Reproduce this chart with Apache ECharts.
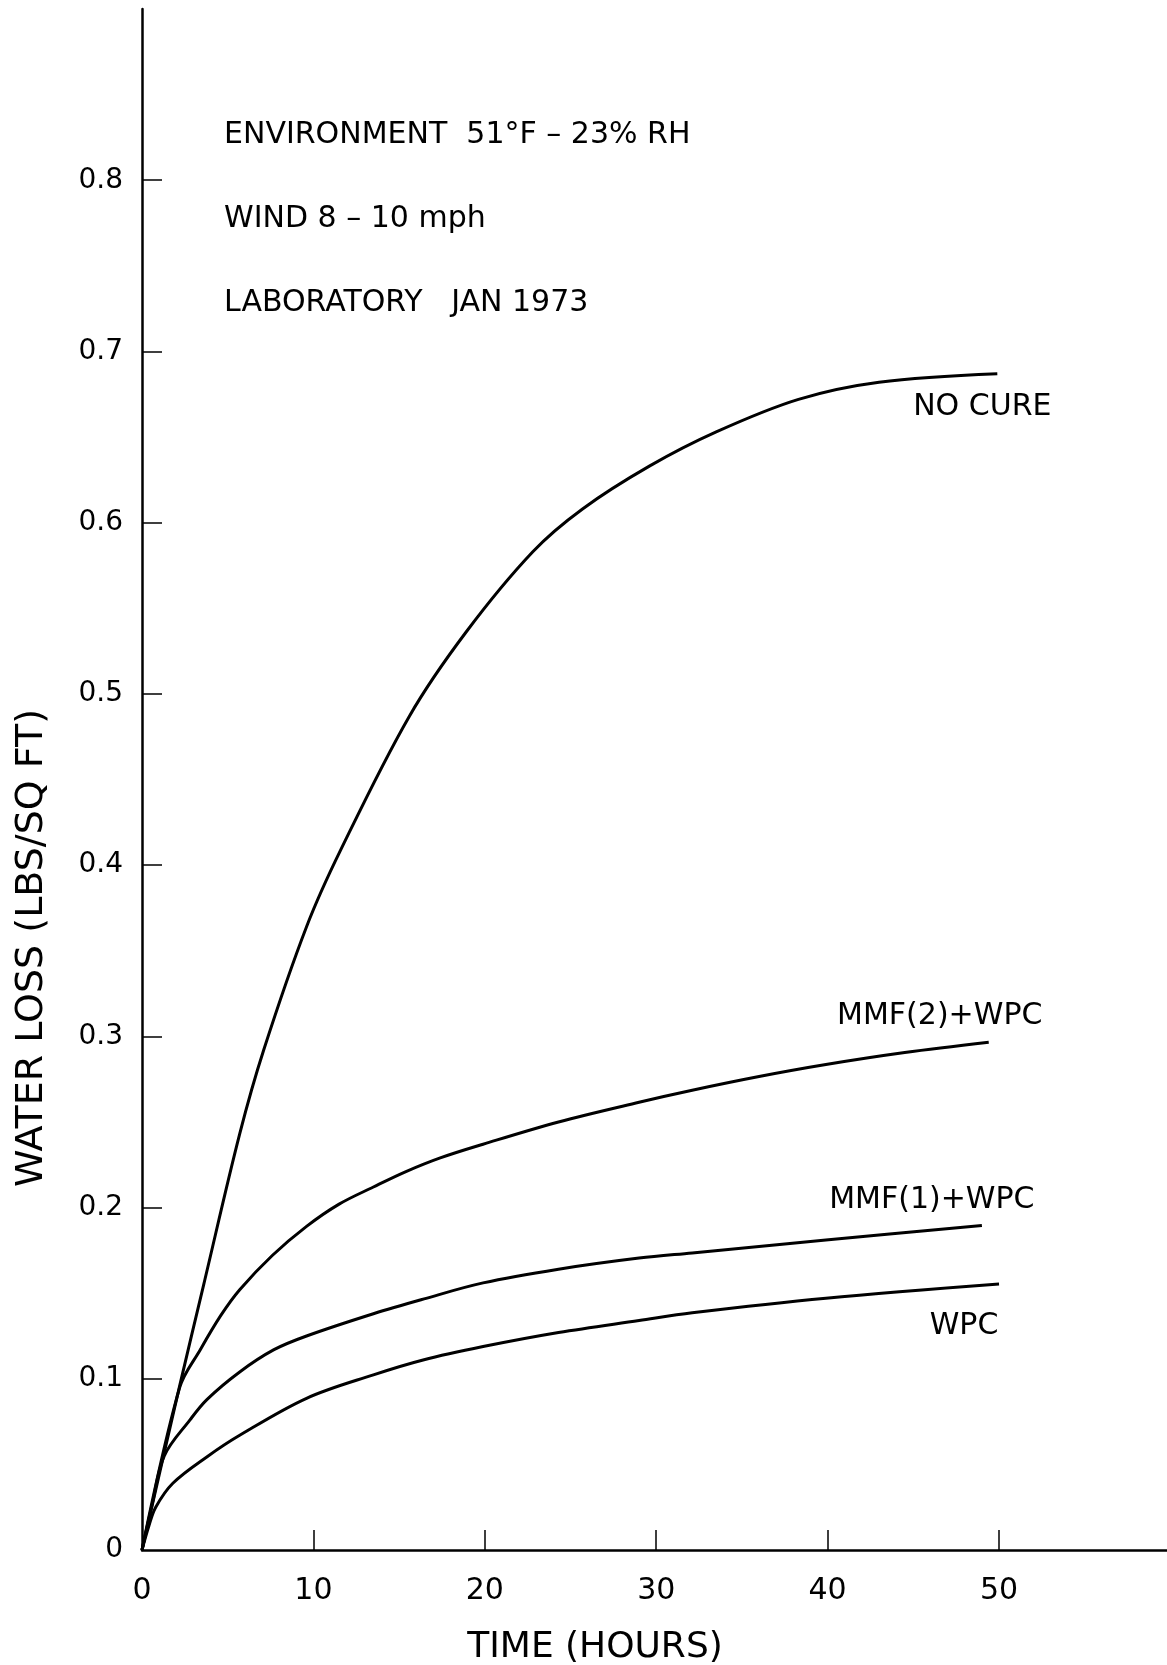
<!DOCTYPE html>
<html>
<head>
<meta charset="utf-8">
<title>Water loss vs time</title>
<script src="https://cdn.jsdelivr.net/npm/echarts@6/dist/echarts.min.js"></script>
<style>
  html, body { margin: 0; padding: 0; background: #fff; }
  #chart { width: 1167px; height: 1665px; }
</style>
</head>
<body>
<div id="chart"></div>
<script>
// values (hours, lbs/sq ft)
const noCureHours = [0, 2.2, 3.6, 5.7, 7.1, 9.6, 11.6, 15.6, 18.9, 22.8, 25.7, 29.6, 33.5, 38.3, 43.0, 49.9];
const noCureLoss = [0, 0.096, 0.155, 0.243, 0.292, 0.364, 0.409, 0.487, 0.536, 0.583, 0.608, 0.633, 0.653, 0.672, 0.682, 0.687];

const mmf2Hours = [0, 2.2, 3.4, 4.6, 5.7, 7.6, 9.6, 11.5, 13.5, 15.4, 17.4, 19.9, 24.3, 29.0, 32.1, 36.0, 39.9, 44.5, 49.4];
const mmf2Loss = [0, 0.095, 0.117, 0.137, 0.152, 0.172, 0.189, 0.202, 0.212, 0.221, 0.229, 0.237, 0.250, 0.2615, 0.2685, 0.2765, 0.2835, 0.2905, 0.2965];

const mmf1Hours = [0, 0.6, 1.3, 2.8, 3.8, 5.7, 7.7, 9.6, 13.5, 16.4, 19.9, 24.3, 29.0, 32.1, 39.9, 49.0];
const mmf1Loss = [0, 0.027, 0.055, 0.076, 0.088, 0.104, 0.117, 0.125, 0.138, 0.1465, 0.156, 0.164, 0.1705, 0.1735, 0.181, 0.1895];

const wpcHours = [0, 0.4, 0.8, 1.8, 3.8, 5.7, 9.6, 13.5, 16.4, 19.9, 24.3, 29.0, 32.1, 39.9, 50.0];
const wpcLoss = [0, 0.014, 0.025, 0.039, 0.0545, 0.067, 0.0886, 0.1023, 0.111, 0.1188, 0.127, 0.134, 0.1385, 0.147, 0.1553];

const seriesNames = ['NO CURE', 'MMF(2)+WPC', 'MMF(1)+WPC', 'WPC'];
const xLabelValues = [0, 10, 20, 30, 40, 50];
const xTickValues = [10, 20, 30, 40, 50];
const yLabelValues = [0, 0.1, 0.2, 0.3, 0.4, 0.5, 0.6, 0.7, 0.8];
const yTickValues = [0.1, 0.2, 0.3, 0.4, 0.5, 0.6, 0.7, 0.8];
const notes = ['ENVIRONMENT  51°F – 23% RH', 'WIND 8 – 10 mph', 'LABORATORY   JAN 1973'];

const font = 'DejaVu Sans';
const chart = echarts.init(document.getElementById('chart'));

const pairs = (xs, ys) => xs.map((x, i) => [x, ys[i]]);

// label offsets relative to each curve's last point
const labelOffsets = [[-15, 33], [-49, -26], [-50, -25], [-35, 42]];
const curves = [
  pairs(noCureHours, noCureLoss),
  pairs(mmf2Hours, mmf2Loss),
  pairs(mmf1Hours, mmf1Loss),
  pairs(wpcHours, wpcLoss)
];

const option = {
  animation: false,
  backgroundColor: '#fff',
  textStyle: { fontFamily: font, color: '#000' },
  title: {
    text: notes.join('\n'),
    left: 224,
    top: 93,
    padding: 0,
    textStyle: { fontFamily: font, fontSize: 30, fontWeight: 'normal', color: '#000', lineHeight: 84 }
  },
  grid: { left: 142, right: 0, top: 9, bottom: 115, outerBoundsMode: 'none' },
  xAxis: {
    type: 'value',
    min: 0,
    max: 59.8,
    interval: 10,
    name: 'TIME (HOURS)',
    nameLocation: 'middle',
    nameGap: 80,
    nameTextStyle: { fontFamily: font, fontSize: 36, color: '#000', padding: [0, 119, 0, 0] },
    axisLine: { lineStyle: { color: '#000', width: 2.5 } },
    axisTick: { inside: true, length: 20, lineStyle: { color: '#000', width: 1.5 }, customValues: xTickValues },
    axisLabel: { fontFamily: font, fontSize: 30, color: '#000', margin: 26, customValues: xLabelValues },
    splitLine: { show: false }
  },
  yAxis: {
    type: 'value',
    min: 0,
    max: 0.9,
    interval: 0.1,
    name: 'WATER LOSS (LBS/SQ FT)',
    nameLocation: 'middle',
    nameGap: 91,
    nameTextStyle: { fontFamily: font, fontSize: 38, color: '#000', padding: [0, 337, 0, 0] },
    axisLine: { show: true, lineStyle: { color: '#000', width: 2.5 } },
    axisTick: { show: true, inside: true, length: 20, lineStyle: { color: '#000', width: 1.5 }, customValues: yTickValues },
    axisLabel: {
      fontFamily: font, fontSize: 28, color: '#000', margin: 19,
      customValues: yLabelValues,
      formatter: v => (v === 0 ? '0' : v.toFixed(1))
    },
    splitLine: { show: false }
  },
  series: curves.map((data, i) => ({
    name: seriesNames[i],
    type: 'line',
    data: data,
    smooth: 0.35,
    showSymbol: false,
    symbol: 'none',
    lineStyle: { color: '#000', width: 3 },
    emphasis: { disabled: true },
    endLabel: {
      show: true,
      formatter: seriesNames[i],
      fontFamily: font,
      fontSize: 30,
      color: '#000',
      align: 'center',
      verticalAlign: 'middle',
      distance: 0,
      offset: labelOffsets[i]
    }
  }))
};

chart.setOption(option);
window.addEventListener('resize', () => chart.resize());
</script>
</body>
</html>
